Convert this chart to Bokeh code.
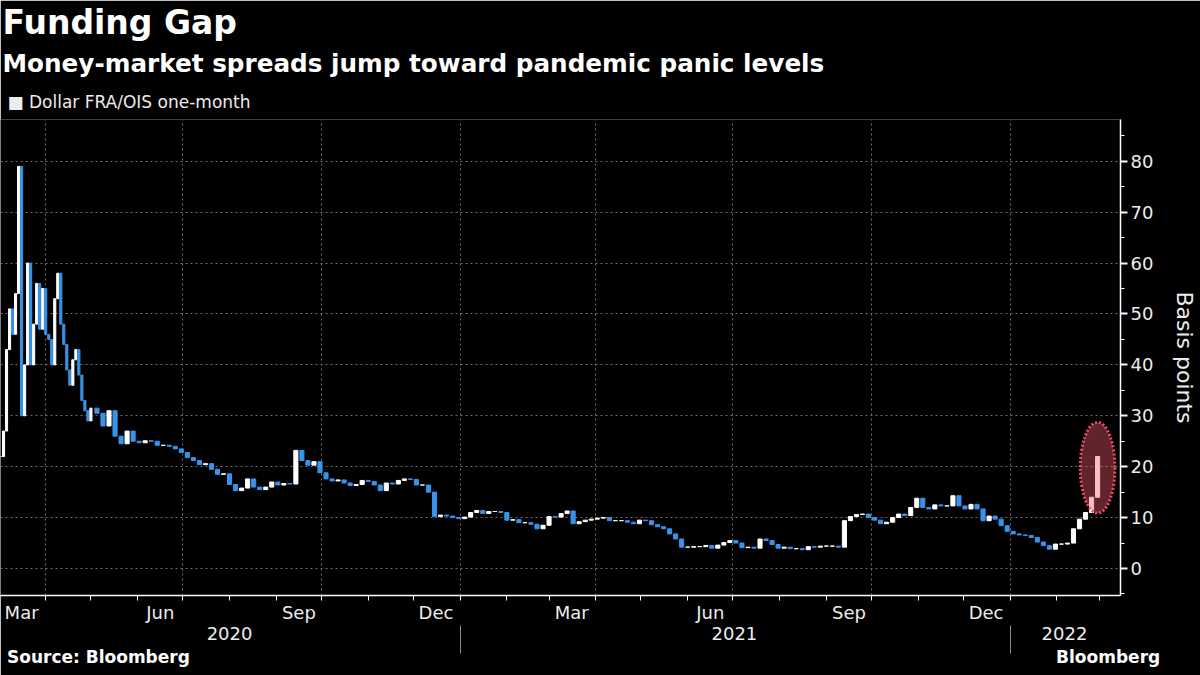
from datetime import date
from bokeh.plotting import figure
from bokeh.models import Range1d, FixedTicker, LinearAxis, Title, ColumnDataSource
from bokeh.embed import file_html
from bokeh.resources import INLINE

# ---------------- data ----------------
BASE = date(2020, 3, 2)

# Dollar FRA/OIS one-month, basis points
early_start = date(2020, 3, 2)   # sampled every 2 days
early_step = 2
early_close = [22, 27, 43, 51, 46, 54, 79, 30, 40, 60, 40, 48, 56, 47, 55, 46,
               45, 40, 53, 58, 48, 44, 39, 36, 41, 43, 38, 33, 31, 29, 31.5]

main_start = date(2020, 5, 5)    # sampled every 4 days
main_step = 4
main_close = [
    30.5, 28, 31, 26, 24.5, 27, 25, 24.7, 25.1, 25.0,
    24.2, 24.2, 24, 23.5, 22.8, 21.8, 21.2, 20.4, 20.6, 19.5,
    18.5, 18.6, 16.5, 15.3, 15.8, 17.6, 16, 15.5, 16, 17,
    16.4, 16.7, 16.6, 23.2, 21.2, 20.3, 21, 18.8, 17.6, 17.2,
    17.4, 16.8, 16.3, 16.5, 17.3, 17.1, 16.4, 15.3, 16.8, 16.6,
    17.3, 17.6, 17.5, 16.4, 16.4, 15, 10.2, 10.5, 10.3, 10,
    9.8, 10.1, 11, 11.4, 10.8, 11.2, 11.2, 11, 9.5, 9.6,
    9, 9, 8.7, 7.8, 8.5, 10.2, 10.1, 10.8, 11.3, 8.8,
    9.2, 9.5, 9.7, 9.9, 10, 9.4, 9.4, 9.4, 9.1, 8.8,
    9.5, 9.4, 8.6, 8.2, 7.8, 6.8, 5.8, 4.2, 4.2, 4.3,
    4.3, 4.5, 4, 4.6, 5.1, 5.5, 5, 4.1, 4.2, 4.0,
    5.8, 5.5, 4.7, 4, 4.2, 3.9, 3.9, 3.7, 4.3, 4.2,
    4.4, 4.4, 4.4, 4.2, 9.4, 10.2, 10.6, 10.7, 10, 9.5,
    8.8, 9.1, 10, 10.7, 10.4, 12, 13.8, 12, 11.7, 12.5,
    12.3, 12.3, 14.3, 12.3, 11.7, 12.6, 11.7, 9.4, 10.3, 9.7,
    8.4, 7.3, 6.8, 6.6, 6.5, 6.1, 5.2, 4.5, 3.8, 4.8,
    4.8, 5, 7.8, 9.7, 11, 14, 22,
]

month_names = ["Mar", "Jun", "Sep", "Dec", "Mar", "Jun", "Sep", "Dec"]
month_label_ym = [(2020, 3), (2020, 6), (2020, 9), (2020, 12),
                  (2021, 3), (2021, 6), (2021, 9), (2021, 12)]
year_names = ["2020", "2021", "2022"]
y_ticks = [0, 10, 20, 30, 40, 50, 60, 70, 80]

highlight_level = 19.8   # centre of the red callout, bp
highlight_days = 23      # callout width, days
highlight_bp = 17.8      # callout height, bp

TITLE = "Funding Gap"
SUBTITLE = "Money-market spreads jump toward pandemic panic levels"
SERIES = "Dollar FRA/OIS one-month"
SOURCE = "Source: Bloomberg"
LOGO = "Bloomberg"

# ---------------- derived ----------------
def dnum(y, m, d):
    return (date(y, m, d) - BASE).days

e0 = (early_start - BASE).days
m0 = (main_start - BASE).days
days = [e0 + early_step * i for i in range(len(early_close))] + \
       [m0 + main_step * i for i in range(len(main_close))]
widths = [early_step * 0.7] * len(early_close) + [main_step * 0.68] * len(main_close)
close = early_close + main_close
open_ = [close[0]] + close[:-1]
WHITE = "#ffffff"
BLUE = "#3894ea"
colors = [WHITE if c >= o else BLUE for o, c in zip(open_, close)]
tops = [max(o, c) for o, c in zip(open_, close)]
bottoms = [min(o, c) for o, c in zip(open_, close)]
src = ColumnDataSource(dict(day=days, w=widths, top=tops, bottom=bottoms, color=colors))

X0, X1 = 0, 743.2
Y0, Y1 = -5.3, 88.2

month_starts = []
for y in (2020, 2021, 2022):
    for m in range(1, 13):
        d = dnum(y, m, 1)
        if X0 < d < X1:
            month_starts.append(d)
quarter_starts = [dnum(y, m, 1) for y in (2020, 2021, 2022) for m in (1, 4, 7, 10)
                  if X0 < dnum(y, m, 1) < X1]
label_pos = [dnum(y, m, 16) for (y, m) in month_label_ym]
jan21, jan22 = dnum(2021, 1, 1), dnum(2022, 1, 1)
year_pos = [int((X0 + jan21) / 2), int((jan21 + jan22) / 2), int((jan22 + X1) / 2)]
foot_pos = [65, 735]

FONT = "DejaVu Sans"
TXT = "#ececec"

W, H = 1200, 675
p = figure(width=W, height=H, x_range=Range1d(X0, X1), y_range=Range1d(Y0, Y1),
           output_backend="svg", toolbar_location=None, y_axis_location="right",
           background_fill_color="#000000", border_fill_color="#000000",
           outline_line_color=None, min_border_left=0, min_border_right=80,
           min_border_top=118, min_border_bottom=80,
           title=TITLE)

# main title (outermost panel above)
p.title.text_font = FONT
p.title.text_font_size = "33px"
p.title.text_font_style = "bold"
p.title.text_color = "#ffffff"
p.title.align = "left"
p.title.offset = 2
p.title.vertical_align = "bottom"
p.title.standoff = 0

# legend line (closest to the frame), then subtitle
leg = Title(text="\u25a0 " + SERIES, text_font=FONT, text_font_size="17px",
            text_font_style="normal", text_color=TXT, align="left", offset=7,
            vertical_align="bottom", standoff=15)
p.add_layout(leg, "above")
sub = Title(text=SUBTITLE, text_font=FONT, text_font_size="24.7px", text_font_style="bold",
            text_color="#ffffff", align="left", offset=2, vertical_align="bottom", standoff=10)
p.add_layout(sub, "above")

# bottom month axis
xa = p.xaxis[0]
xa.ticker = FixedTicker(ticks=label_pos, minor_ticks=month_starts)
xa.major_label_overrides = {d: n for d, n in zip(label_pos, month_names)}
xa.axis_line_color = "#ffffff"
xa.axis_line_width = 1.5
xa.major_tick_line_color = None
xa.major_tick_out = 5
xa.major_tick_in = 0
xa.minor_tick_line_color = "#ffffff"
xa.minor_tick_out = 5
xa.minor_tick_in = 0
xa.major_label_standoff = 1
xa.major_label_text_font = FONT
xa.major_label_text_font_size = "18px"
xa.major_label_text_color = TXT

# year axis with separators
ax_years = LinearAxis(ticker=FixedTicker(ticks=year_pos, minor_ticks=[jan21, jan22]))
ax_years.major_label_overrides = {d: n for d, n in zip(year_pos, year_names)}
ax_years.axis_line_color = None
ax_years.major_tick_line_color = None
ax_years.major_tick_out = 0
ax_years.major_tick_in = 0
ax_years.minor_tick_line_color = "#8a8a8a"
ax_years.minor_tick_out = 28
ax_years.minor_tick_in = 0
ax_years.major_label_standoff = -27
ax_years.major_label_text_font = FONT
ax_years.major_label_text_font_size = "18px"
ax_years.major_label_text_color = TXT
p.add_layout(ax_years, "below")

# footer row: source and logo
ax_foot = LinearAxis(ticker=FixedTicker(ticks=foot_pos, minor_ticks=[]))
ax_foot.major_label_overrides = {foot_pos[0]: SOURCE, foot_pos[1]: LOGO}
ax_foot.axis_line_color = None
ax_foot.major_tick_line_color = None
ax_foot.minor_tick_line_color = None
ax_foot.major_tick_out = 0
ax_foot.major_tick_in = 0
ax_foot.major_label_standoff = 4
ax_foot.major_label_text_font = FONT
ax_foot.major_label_text_font_size = "17px"
ax_foot.major_label_text_font_style = "bold"
ax_foot.major_label_text_color = "#ffffff"
p.add_layout(ax_foot, "below")

# right value axis
yax = p.yaxis[0]
yax.ticker = FixedTicker(ticks=y_ticks, minor_ticks=[t + 5 for t in [-10] + y_ticks])
yax.axis_line_color = "#ffffff"
yax.axis_line_width = 1.5
yax.major_tick_line_color = "#ffffff"
yax.major_tick_line_width = 2
yax.major_tick_out = 7
yax.major_tick_in = 0
yax.minor_tick_line_color = "#ffffff"
yax.minor_tick_out = 4
yax.minor_tick_in = 0
yax.major_label_standoff = 3
yax.major_label_text_font = FONT
yax.major_label_text_font_size = "18px"
yax.major_label_text_color = TXT
yax.axis_label = "Basis points"
yax.axis_label_text_font = FONT
yax.axis_label_text_font_size = "22px"
yax.axis_label_text_font_style = "normal"
yax.axis_label_text_color = TXT
yax.axis_label_standoff = 16

p.xgrid.ticker = FixedTicker(ticks=quarter_starts)
p.ygrid.ticker = FixedTicker(ticks=y_ticks)
for g in (p.xgrid, p.ygrid):
    g.grid_line_color = "#6e6e6e"
    g.grid_line_dash = "2 3"
    g.grid_line_width = 1

# candles
p.vbar(x="day", width="w", top="top", bottom="bottom", fill_color="color",
       line_color="color", line_width=1, source=src)

# highlight callout
p.ellipse(x=[days[-1]], y=[highlight_level], width=highlight_days, height=highlight_bp,
          fill_color="#f05a6e", fill_alpha=0.4, line_color="#ec4a60", line_width=3,
          line_dash="2 2")

open("out.html", "w").write(file_html(p, INLINE))
